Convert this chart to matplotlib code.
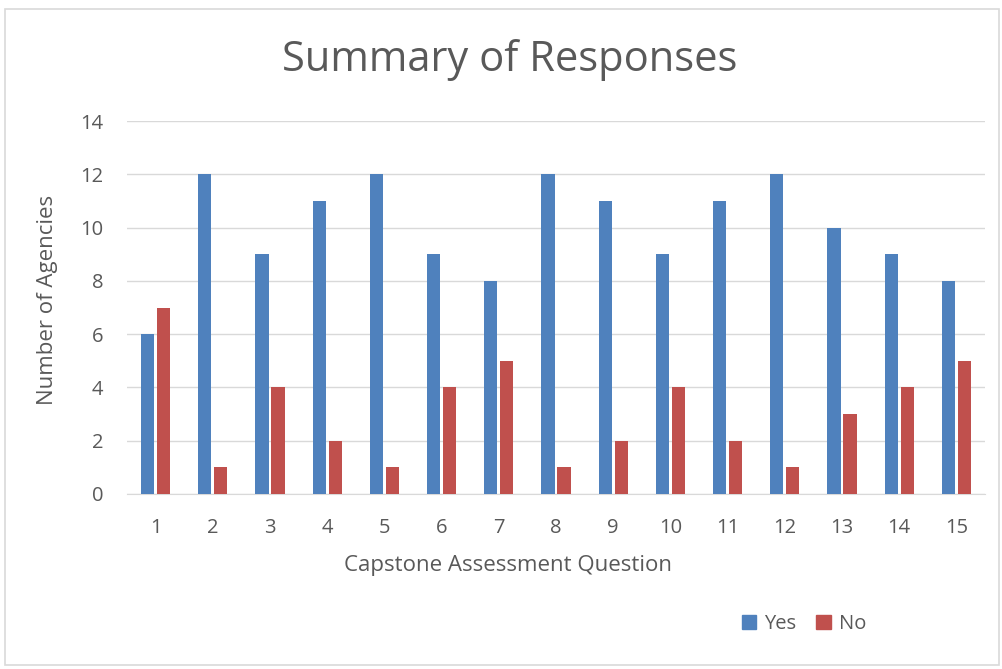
import numpy as np
import matplotlib.pyplot as plt
from matplotlib.patches import Rectangle, Patch

# Chart data
questions = list(range(1, 16))
yes_counts = [6, 12, 9, 11, 12, 9, 8, 12, 11, 9, 11, 12, 10, 9, 8]
no_counts = [7, 1, 4, 2, 1, 4, 5, 1, 2, 4, 2, 1, 3, 4, 5]

plt.rcParams['font.family'] = ['Open Sans', 'DejaVu Sans']
text_color = '#595959'
blue = '#4f81bd'
red = '#c0504d'

fig = plt.figure(figsize=(10.02, 6.69), dpi=100)
ax = fig.add_axes([0.1267, 0.2616, 0.8563, 0.5575])

x = np.array(questions)
bar_w = 0.23
offset = 0.14
ax.bar(x - offset, yes_counts, width=bar_w, color=blue, label='Yes', zorder=3)
ax.bar(x + offset, no_counts, width=bar_w, color=red, label='No', zorder=3)

ax.set_xlim(0.5, 15.5)
ax.set_ylim(0, 14)
ax.set_yticks(range(0, 15, 2))
ax.set_xticks(questions)
ax.grid(axis='y', color='#d9d9d9', linewidth=1, zorder=0)
for side in ['top', 'right', 'left']:
    ax.spines[side].set_visible(False)
ax.spines['bottom'].set_color('#d9d9d9')
ax.tick_params(axis='both', length=0, labelsize=14.5, labelcolor=text_color)
ax.tick_params(axis='x', pad=17)
ax.tick_params(axis='y', pad=17)

# axis titles (Excel centres the x title on the chart, not the plot)
fig.text(508 / 1002, 1 - 566 / 669, 'Capstone Assessment Question', ha='center',
         va='center', fontsize=16, color=text_color)
fig.text(48 / 1002, 1 - 300 / 669, 'Number of Agencies', ha='center', va='center',
         rotation=90, fontsize=16, color=text_color)
fig.text(510 / 1002, 1 - 60 / 669, 'Summary of Responses', ha='center', va='center',
         fontsize=30, color=text_color)

handles = [Patch(color=blue, label='Yes'), Patch(color=red, label='No')]
fig.legend(handles=handles, loc='center', bbox_to_anchor=(804 / 1002, 1 - 624 / 669), ncol=2,
           frameon=False, fontsize=14.5, handlelength=0.7, handleheight=0.7,
           handletextpad=0.4, columnspacing=1.0, labelcolor=text_color)

# light outer border
fig.patches.append(Rectangle((5 / 1002, 4 / 669), 994 / 1002, 656 / 669,
                             transform=fig.transFigure, fill=False,
                             edgecolor='#d9d9d9', linewidth=1.2))

plt.savefig('out.png', dpi=100)
